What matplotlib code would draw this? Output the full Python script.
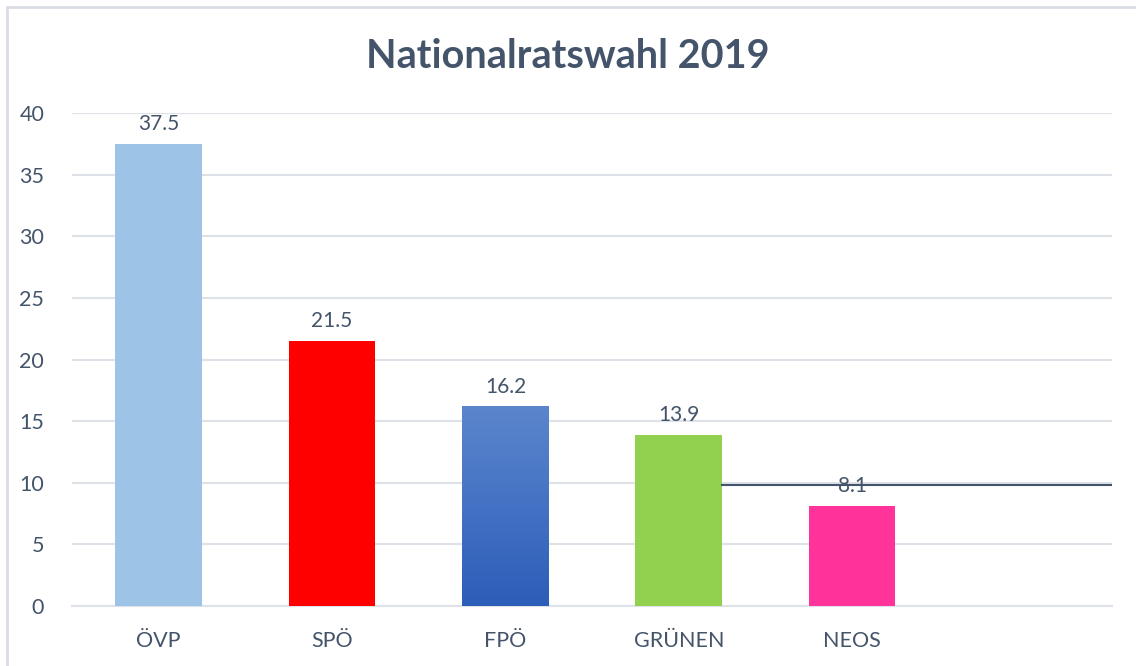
import numpy as np
import matplotlib.pyplot as plt
from matplotlib.patches import Rectangle
from matplotlib.colors import LinearSegmentedColormap

# data
parties = ["ÖVP", "SPÖ", "FPÖ", "GRÜNEN", "NEOS", ""]
votes = [37.5, 21.5, 16.2, 13.9, 8.1, 0]
colors = ["#9DC3E6", "#FF0000", "#4472C4", "#92D050", "#FF3399", "none"]
ref_value = 9.8
title = "Nationalratswahl 2019"

txt = "#44546A"
grid = "#DDE1E8"

plt.rcParams['font.family'] = ['Lato', 'DejaVu Sans']

fig = plt.figure(figsize=(11.36, 6.66), dpi=100)
ax = fig.add_axes([0.0634, 0.0901, 0.9156, 0.740])

x = np.arange(len(parties))
bars = ax.bar(x, votes, width=0.5, color=colors, zorder=3)

# gradient for FPÖ
b = bars[2]
grad = np.linspace(0, 1, 256).reshape(-1, 1)
cmap = LinearSegmentedColormap.from_list("fpo", ["#2C5DB8", "#4472C4", "#5B86CC"])
b.set_facecolor("none")
ax.imshow(grad, cmap=cmap, origin="lower", aspect="auto",
          extent=[b.get_x(), b.get_x() + b.get_width(), 0, b.get_height()], zorder=3)

for i, v in enumerate(votes):
    if parties[i]:
        ax.annotate(f"{v}", (x[i], v), xytext=(0, 7), textcoords="offset points",
                    ha="center", va="bottom", fontsize=15, color=txt, zorder=5)

# horizontal line from GRÜNEN bar to right edge
ax.plot([x[3] + 0.25, x[-1] + 0.5], [ref_value, ref_value], color=txt, lw=1.5, zorder=4)

ax.set_xlim(-0.5, len(parties) - 0.5)
ax.set_ylim(0, 40)
ax.set_yticks(range(0, 41, 5))
ax.set_xticks(x)
ax.set_xticklabels(parties)
ax.yaxis.grid(True, color=grid, lw=1.5, zorder=0)
ax.tick_params(axis="both", length=0, labelsize=15.5, labelcolor=txt)
ax.tick_params(axis="y", pad=20)
ax.tick_params(axis="x", pad=18)
for s in ["top", "right", "left"]:
    ax.spines[s].set_visible(False)
ax.spines["bottom"].set_color(grid)
ax.spines["bottom"].set_linewidth(1.5)

fig.text(0.5, 0.915, title, ha="center", va="center", fontsize=28.5,
         fontweight="bold", color=txt)

# chart border (cut off right and bottom)
fig.patches.append(Rectangle((7 / 1136, -0.1), 2, 1.1 - 7 / 666, transform=fig.transFigure,
                             fill=False, edgecolor="#D9DDE3", lw=2, zorder=0))

fig.savefig("out.png", dpi=100)
